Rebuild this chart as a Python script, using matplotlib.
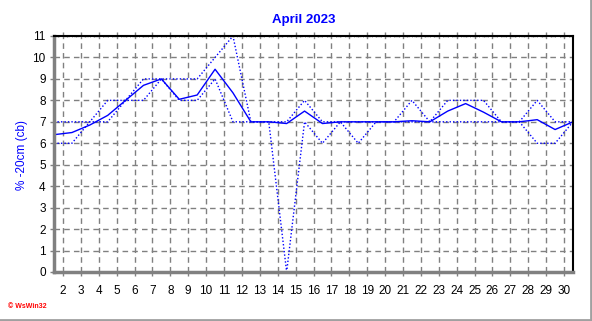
import numpy as np
import matplotlib
matplotlib.use("Agg")
import matplotlib.pyplot as plt
from matplotlib.lines import Line2D
from matplotlib.ticker import MultipleLocator

plt.rcParams['font.family'] = ['Liberation Sans', 'DejaVu Sans']

# daily values, April 2023 (soil tension at -20cm, cb)
days = np.arange(1, 31)
mean_cb = [6.4, 6.5, 6.85, 7.3, 8.0, 8.7, 9.0, 8.05, 8.25, 9.45,
           8.35, 7.0, 7.0, 6.92, 7.5, 6.92, 7.0, 7.0, 7.0, 7.0,
           7.05, 7.0, 7.5, 7.85, 7.45, 7.0, 7.0, 7.1, 6.64, 7.0]
max_cb = [7, 7, 7, 8, 8, 9, 9, 9, 9, 10,
          11, 7, 7, 7, 8, 7, 7, 7, 7, 7,
          8, 7, 8, 8, 8, 7, 7, 8, 7, 7]
min_cb = [6, 6, 7, 7, 8, 8, 9, 8, 8, 9,
          7, 7, 7, 0, 7, 6, 7, 6, 7, 7,
          7, 7, 7, 7, 7, 7, 7, 6, 6, 7]
tick_days = list(range(2, 31))

fig = plt.figure(figsize=(5.92, 3.21), dpi=100)
ax = fig.add_axes([54/592, 1 - 272/321, (573-54)/592, (272-36)/321])

# values sit at the middle of each day
xpos = days + 0.5
ax.plot(xpos, max_cb, color='#0000ff', lw=1, ls=(0, (1, 1.5)))
ax.plot(xpos, min_cb, color='#0000ff', lw=1, ls=(0, (1, 1.5)))
ax.plot(xpos, mean_cb, color='#0000ff', lw=1)

ax.set_xlim(1.5, 30.5)
ax.set_ylim(0, 11)
ax.set_xticks(tick_days)
ax.set_yticks(range(0, 12))
ax.xaxis.set_minor_locator(MultipleLocator(0.25))
ax.grid(True, which='major', color='#808080', ls=(0, (4, 3)), lw=1)

ax.tick_params(axis='both', which='major', labelsize=8.5, length=3, width=1,
               color='#808080', pad=3)
ax.tick_params(axis='x', which='major', pad=6, top=True)
ax.tick_params(axis='x', which='minor', length=2, color='#808080', top=True,
               direction='inout')

for side in ('left', 'bottom'):
    ax.spines[side].set_color('#808080')
    ax.spines[side].set_linewidth(2.5)
for side in ('top', 'right'):
    ax.spines[side].set_color('black')
    ax.spines[side].set_linewidth(1.5)

fig.text(304/592, 1 - 20/321, 'April 2023', color='#0000ff', fontsize=9.5,
         fontweight='bold', ha='center', va='center')
fig.text(22/592, 1 - 155/321, '% -20cm (cb)', color='#0000ff', fontsize=8.5,
         rotation=90, ha='center', va='center')
fig.text(8/592, 1 - 306/321, '\u00a9 WsWin32', color='red', fontsize=5,
         fontweight='bold', ha='left', va='center')

# grey frame on right and bottom
fig.add_artist(Line2D([0, 1], [1/321, 1/321], transform=fig.transFigure,
                      color='#a0a0a0', lw=2))
fig.add_artist(Line2D([1 - 1.5/592, 1 - 1.5/592], [0, 1], transform=fig.transFigure,
                      color='#a0a0a0', lw=2))

fig.savefig('out.png', dpi=100)
